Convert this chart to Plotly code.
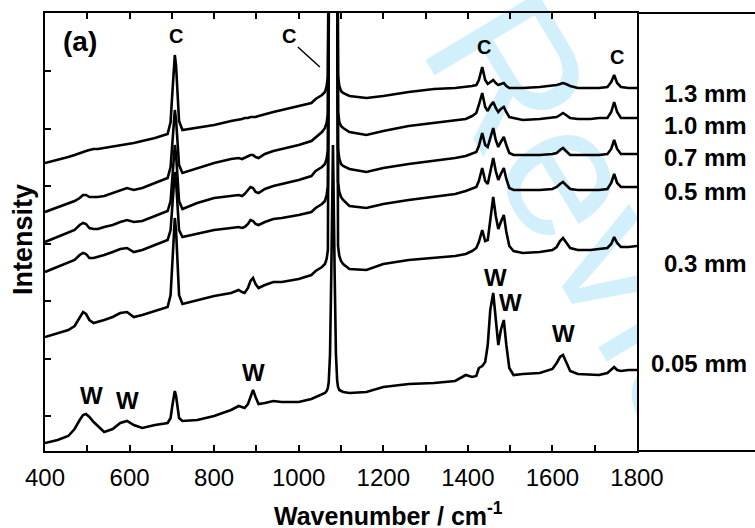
import plotly.graph_objects as go

FONT = "Liberation Sans, Arial, sans-serif"

# ---------------- data ----------------
wavenumber = [400, 430, 455, 470, 482, 490, 497, 505, 515, 525,
              540, 560, 578, 594, 610, 630, 660, 690, 697, 701,
              704, 707, 710, 713, 717, 725, 760, 800, 840, 858,
              866, 872, 880, 886, 892, 898, 905, 920, 940, 960,
              1000, 1030, 1040, 1055, 1062, 1066, 1069, 1071, 1074, 1077,
              1081, 1085, 1088, 1091, 1093, 1096, 1100, 1105, 1120, 1160,
              1200, 1260, 1320, 1370, 1395, 1410, 1420, 1426, 1434, 1441,
              1447, 1453, 1460, 1466, 1472, 1478, 1485, 1491, 1498, 1508,
              1530, 1570, 1600, 1610, 1618, 1625, 1632, 1642, 1660, 1690,
              1710, 1730, 1739, 1746, 1753, 1762, 1780, 1800]

int_1p3mm = [288, 291, 294, 296, 298, 299, 300, 301, 302, 302,
             303, 305, 306, 307, 308, 310, 313, 317, 329, 357,
             384, 396, 385, 358, 330, 321, 323, 326, 330, 331,
             332, 333, 333, 334, 334, 334, 335, 337, 339, 341,
             345, 348, 352, 356, 359, 365, 374, 652, 1052, 1252,
             1352, 1253, 1053, 653, 375, 365, 360, 358, 355, 353,
             355, 359, 362, 363, 364, 365, 366, 371, 384, 371,
             367, 369, 371, 368, 366, 367, 368, 365, 363, 363,
             363, 364, 365, 366, 367, 368, 367, 365, 363, 363,
             363, 364, 369, 376, 368, 364, 363, 363]

int_1p0mm = [239, 244, 248, 250, 253, 256, 256, 254, 254, 254,
             255, 258, 261, 263, 261, 263, 268, 273, 284, 309,
             331, 341, 331, 310, 286, 278, 283, 288, 292, 293,
             292, 293, 295, 296, 296, 294, 293, 297, 300, 302,
             306, 310, 314, 319, 323, 328, 337, 615, 1015, 1215,
             1316, 1216, 1016, 617, 339, 329, 325, 323, 319, 316,
             320, 325, 328, 330, 332, 335, 338, 346, 358, 344,
             340, 345, 349, 343, 339, 342, 344, 339, 334, 333,
             331, 332, 333, 334, 336, 338, 336, 333, 332, 332,
             333, 333, 339, 349, 339, 333, 333, 333]

int_0p7mm = [209, 214, 218, 221, 226, 228, 227, 223, 222, 222,
             224, 226, 229, 231, 229, 230, 235, 240, 250, 274,
             296, 306, 296, 274, 250, 242, 248, 253, 255, 256,
             255, 257, 261, 264, 263, 259, 258, 262, 265, 267,
             271, 275, 280, 284, 287, 292, 301, 579, 979, 1179,
             1279, 1180, 980, 580, 302, 292, 287, 285, 282, 279,
             283, 287, 290, 293, 295, 297, 299, 305, 318, 306,
             304, 313, 323, 311, 304, 309, 314, 306, 298, 296,
             296, 296, 297, 298, 301, 303, 300, 296, 296, 296,
             296, 297, 302, 311, 302, 297, 297, 297]

int_0p5mm = [179, 184, 188, 191, 196, 198, 197, 193, 193, 194,
             196, 199, 202, 203, 199, 201, 206, 211, 221, 246,
             269, 279, 269, 246, 221, 214, 217, 221, 223, 224,
             223, 224, 227, 231, 230, 227, 226, 229, 232, 233,
             236, 239, 243, 247, 250, 256, 265, 543, 943, 1143,
             1245, 1146, 946, 546, 269, 259, 254, 251, 245, 243,
             247, 251, 254, 257, 260, 262, 264, 270, 283, 270,
             267, 279, 293, 280, 271, 277, 283, 272, 263, 261,
             261, 261, 262, 264, 267, 269, 266, 262, 261, 261,
             261, 262, 268, 277, 268, 264, 264, 264]

int_0p3mm = [114, 118, 121, 125, 134, 139, 137, 131, 128, 129,
             131, 134, 138, 139, 134, 136, 140, 144, 156, 190,
             220, 233, 220, 190, 156, 147, 151, 155, 158, 161,
             159, 158, 163, 170, 173, 167, 163, 166, 169, 169,
             172, 176, 180, 184, 187, 192, 201, 480, 880, 1080,
             1180, 1082, 882, 483, 205, 195, 190, 187, 182, 181,
             187, 191, 193, 195, 197, 200, 203, 209, 221, 210,
             211, 231, 254, 235, 222, 229, 236, 219, 205, 200,
             198, 199, 201, 204, 210, 213, 209, 203, 201, 201,
             202, 203, 207, 214, 208, 204, 204, 205]

int_0p05mm = [8, 11, 15, 22, 31, 36, 37, 34, 29, 25,
              19, 22, 28, 30, 26, 23, 26, 28, 33, 45,
              55, 60, 55, 45, 33, 30, 31, 35, 41, 45,
              44, 43, 47, 55, 61, 54, 47, 48, 50, 49,
              49, 52, 54, 57, 58, 60, 63, 69, 96, 176,
              306, 177, 97, 70, 64, 61, 60, 59, 58, 59,
              64, 67, 68, 70, 76, 74, 75, 83, 85, 89,
              106, 141, 158, 131, 106, 121, 131, 106, 83, 76,
              77, 78, 82, 88, 94, 96, 89, 80, 77, 76,
              76, 78, 81, 84, 81, 80, 81, 81]

thickness_labels = ["1.3 mm", "1.0 mm", "0.7 mm", "0.5 mm", "0.3 mm", "0.05 mm"]
thickness_label_y = [357, 325, 293, 260, 188, 88]

peak_text = ["C", "C", "C", "C", "W", "W", "W", "W", "W", "W"]
peak_x = [710, 977, 1438, 1753, 511, 594, 894, 1466, 1502, 1627]
peak_y = [415, 415, 404, 394, 56, 51, 79, 174, 149, 118]

x_tick_labels = ["400", "600", "800", "1000", "1200", "1400", "1600", "1800"]
x_tick_vals = [400, 600, 800, 1000, 1200, 1400, 1600, 1800]

# ---------------- figure ----------------
W, H = 755, 528
L, R, T, B = 45, 118, 13, 77
PW = W - L - R
PH = H - T - B
Y_MAX = 438

series = [int_1p3mm, int_1p0mm, int_0p7mm, int_0p5mm, int_0p3mm, int_0p05mm]

fig = go.Figure()
for name, vals in zip(thickness_labels, series):
    fig.add_trace(go.Scatter(x=wavenumber, y=vals, mode="lines", name=name,
                             line=dict(color="black", width=2.6),
                             showlegend=False, hoverinfo="skip"))

fig.update_layout(
    width=W, height=H,
    margin=dict(l=L, r=R, t=T, b=B, pad=0),
    paper_bgcolor="white", plot_bgcolor="white",
    font=dict(family=FONT, color="black"),
    showlegend=False,
)

fig.update_xaxes(
    range=[400, 1800], tickmode="array", tickvals=x_tick_vals, ticktext=x_tick_labels,
    ticks="inside", ticklen=6, tickwidth=1.5, tickcolor="black", ticklabelstandoff=4,
    minor=dict(dtick=100, tick0=400, ticks="inside", ticklen=6, tickwidth=1.5, tickcolor="black"),
    showline=True, linewidth=2, linecolor="black", mirror="allticks",
    showgrid=False, zeroline=False, tickfont=dict(size=24, family=FONT, color="black"),
)
fig.update_yaxes(
    range=[0, Y_MAX], tick0=35, dtick=57.5,
    ticks="inside", ticklen=6, tickwidth=1.5, tickcolor="black",
    showticklabels=False, showline=True, linewidth=2, linecolor="black", mirror=True,
    showgrid=False, zeroline=False,
)

# watermark (clipped horizontally to the plot area)
fig.add_shape(type="line", xref="x", yref="paper", x0=983, y0=1.774, x1=1714, y1=0.600,
              layer="below", line=dict(color="rgba(0,0,0,0)", width=0),
              label=dict(text="For Peer Review", textposition="middle",
                         yanchor="middle", padding=0,
                         font=dict(size=190, color="#d2effc", family=FONT)))

# frame extended to the right over the label column
ext = (W - L) / PW
for yy in (0, 1):
    fig.add_shape(type="line", xref="paper", yref="paper", x0=1, x1=ext, y0=yy, y1=yy,
                  line=dict(color="black", width=2))

# leader line for the 1085 C label
fig.add_shape(type="line", xref="x", yref="y", x0=998, y0=404, x1=1050, y1=384,
              line=dict(color="black", width=1.5))

for t, x, y in zip(peak_text, peak_x, peak_y):
    fig.add_annotation(x=x, y=y, xref="x", yref="y", text=f"<b>{t}</b>", showarrow=False,
                       font=dict(size=20 if t == "C" else 24, family=FONT, color="black"))

fig.add_annotation(x=483, y=410, xref="x", yref="y", text="<b>(a)</b>", showarrow=False,
                   font=dict(size=28, family=FONT, color="black"))

for lab, yv in zip(thickness_labels, thickness_label_y):
    fig.add_annotation(x=(749 - L) / PW, y=yv / Y_MAX, xref="paper", yref="paper",
                       text=f"<b>{lab}</b>", showarrow=False, xanchor="right", yanchor="middle",
                       font=dict(size=24, family=FONT, color="black"))

fig.add_annotation(x=(389 - L) / PW, y=(451 - 514) / PH, xref="paper", yref="paper",
                   text="<b>Wavenumber / cm<sup>-1</sup></b>", showarrow=False,
                   xanchor="center", yanchor="middle",
                   font=dict(size=25, family=FONT, color="black"))

fig.add_annotation(x=(23 - L) / PW, y=(451 - 240) / PH, xref="paper", yref="paper",
                   text="<b>Intensity</b>", showarrow=False, textangle=-90,
                   xanchor="center", yanchor="middle",
                   font=dict(size=27, family=FONT, color="black"))

fig.write_html("out.html")
